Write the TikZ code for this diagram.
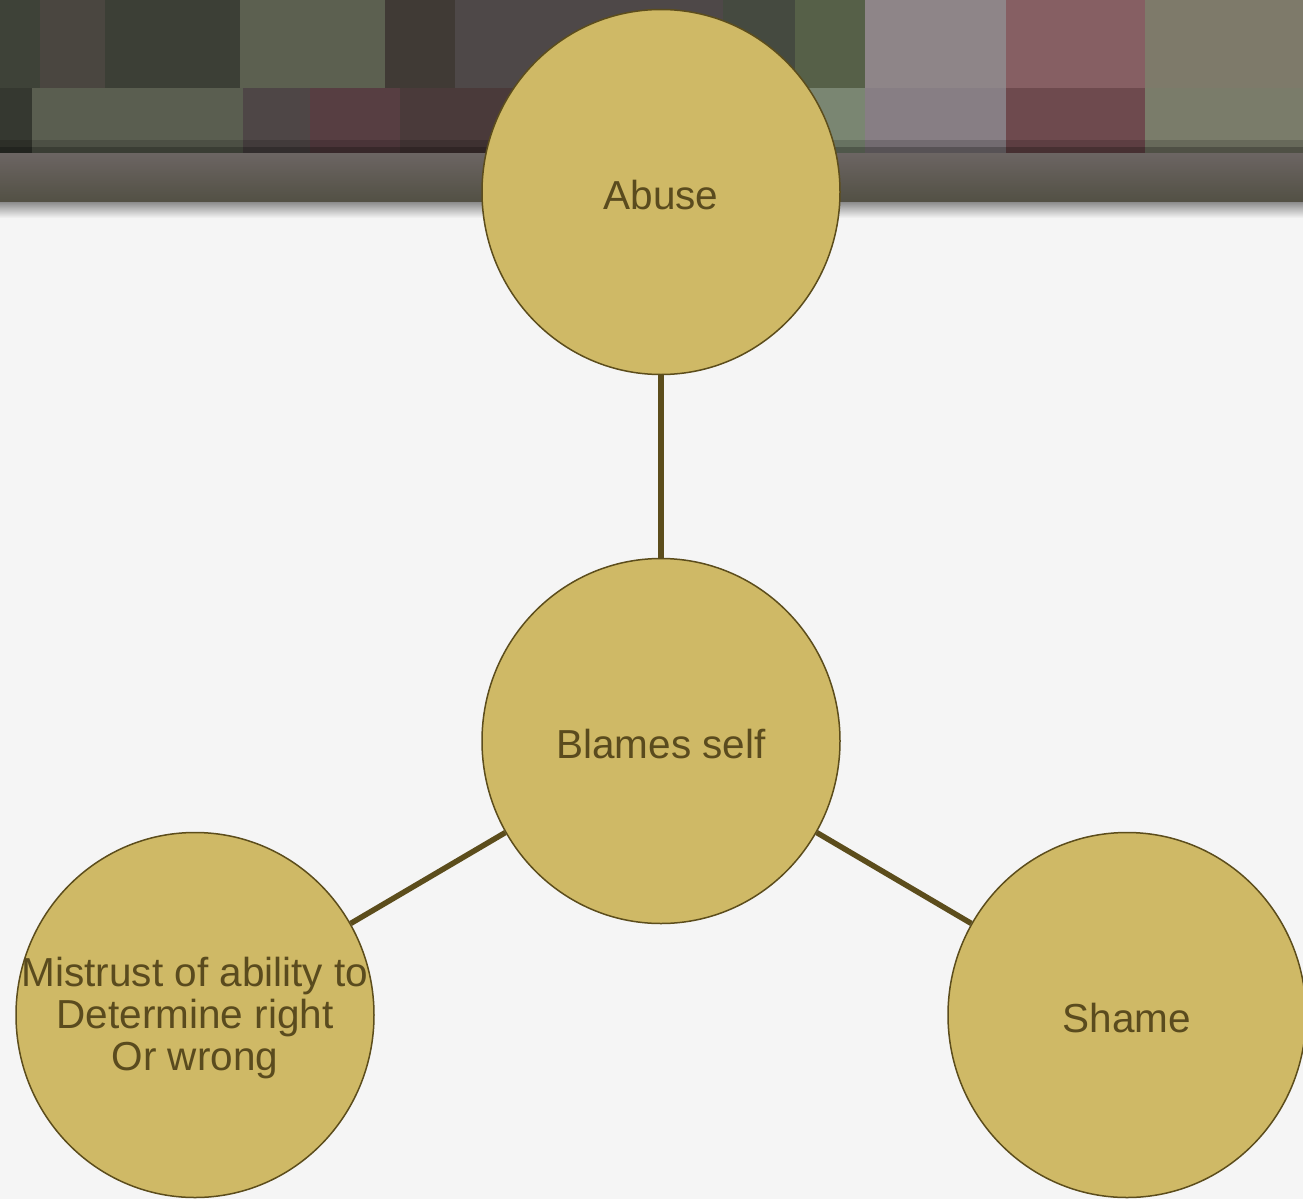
\documentclass[tikz,border=0pt]{standalone}
\usepackage{fontspec}
\setmainfont{Liberation Sans}
\usetikzlibrary{shapes.geometric}
\definecolor{bgcol}{HTML}{F5F5F5}
\definecolor{ballfill}{HTML}{CFB966}
\definecolor{balldraw}{HTML}{5C4D1C}
\definecolor{balltext}{HTML}{5A4B1E}
\tikzset{bubble/.style={ellipse,draw=balldraw,fill=ballfill,line width=1.5pt,minimum width=358pt,minimum height=365pt,inner sep=0pt}}
\tikzset{bubbletext/.style={text=balltext,font=\fontsize{40.5}{42}\selectfont,align=center,inner sep=0pt,yshift=-3pt}}
\tikzset{link/.style={draw=balldraw,line width=5.5pt}}

\begin{document}
\begin{tikzpicture}[x=1pt,y=-1pt]
\useasboundingbox (0,0) rectangle (1303,1199);
\fill[bgcol] (0,0) rectangle (1303,1199);
% blurred photo strip at the top
\foreach \xa/\xb/\col in {0/40/3E4238,40/105/4A4640,105/240/3C3F36,240/385/5C6050,385/455/403A35,455/723/4E4848,723/795/454A40,795/865/566048,865/1006/8E8588,1006/1145/865F63,1145/1303/7E7A6A}
  {\definecolor{tile}{HTML}{\col}\fill[tile] (\xa,0) rectangle (\xb,88);}
\foreach \xa/\xb/\col in {0/32/353830,32/243/5A5E50,243/310/4E4646,310/400/573E42,400/650/4A3A3A,650/865/7A8672,865/1006/877E84,1006/1145/6E4A4E,1145/1303/7A7C6A}
  {\definecolor{tile}{HTML}{\col}\fill[tile] (\xa,88) rectangle (\xb,153);}
\fill[black,opacity=0.15] (0,140) rectangle (1303,147);
\fill[black,opacity=0.35] (0,147) rectangle (1303,153);
\shade[top color={rgb,255:red,108;green,101;blue,99},bottom color={rgb,255:red,82;green,80;blue,68}] (0,153) rectangle (1303,202);
\shade[top color=black!45,bottom color=bgcol] (0,202) rectangle (1303,218);

\node (abuse) [bubble, label={[bubbletext]center:Abuse}] at (661,192) {};
\node (blames) [bubble, label={[bubbletext]center:Blames self}] at (661,741) {};
\node (mistrust) [bubble, label={[bubbletext]center:{Mistrust of ability to\\Determine right\\Or wrong}}] at (195,1015) {};
\node (shame) [bubble, label={[bubbletext]center:Shame}] at (1127,1015) {};
\draw[link] (abuse) -- (blames);
\draw[link] (blames) -- (mistrust);
\draw[link] (blames) -- (shame);
\end{tikzpicture}
\end{document}
